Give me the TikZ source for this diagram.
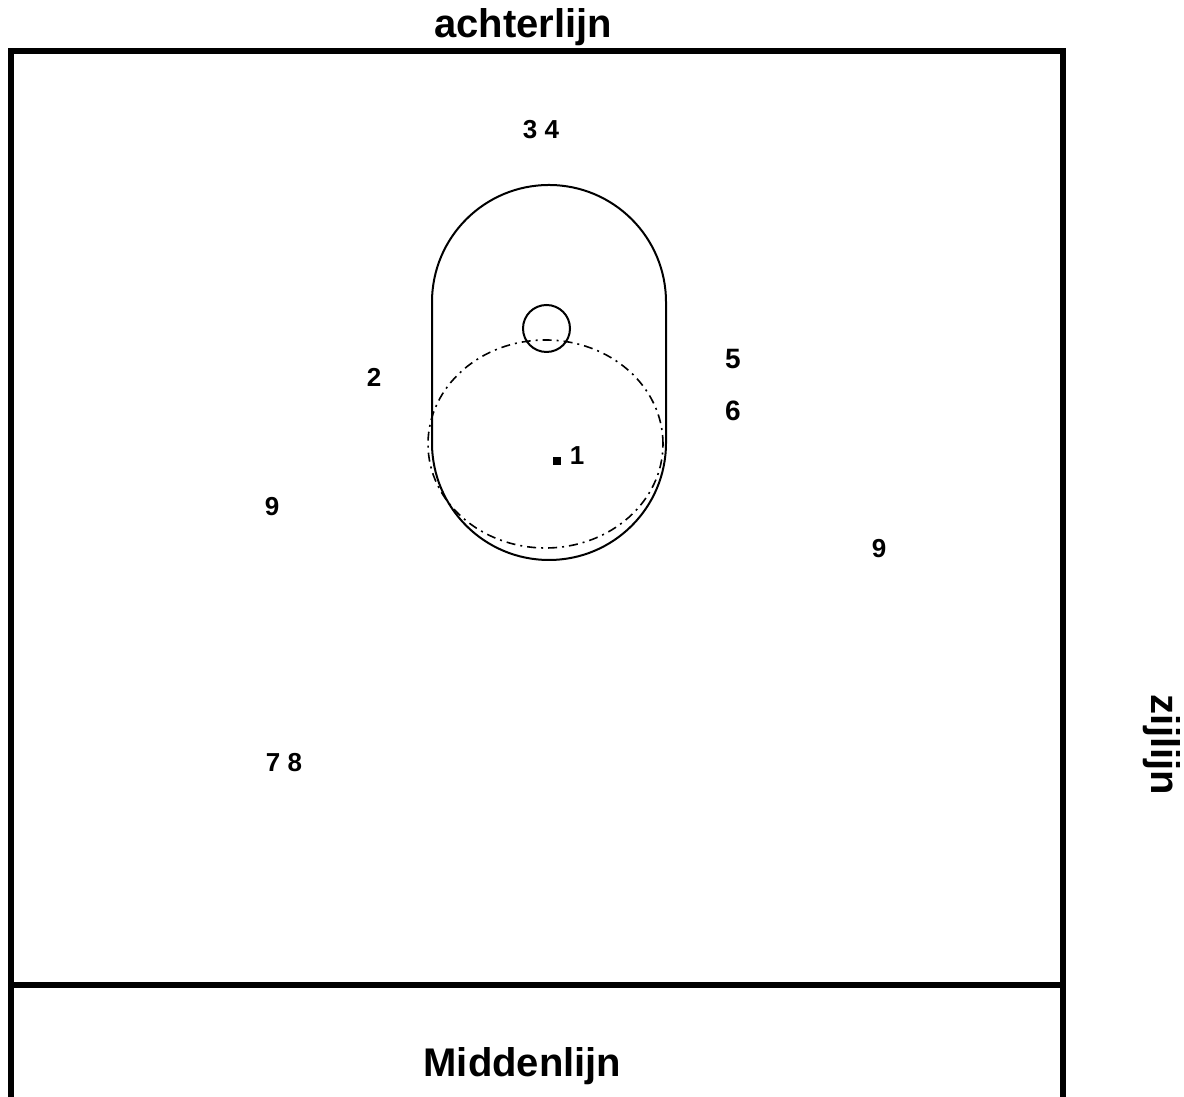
\documentclass[tikz,border=0pt]{standalone}
\usepackage{fontspec}
\setmainfont{Liberation Sans}
\begin{document}
\begin{tikzpicture}[x=1pt,y=1pt,
  frame/.style={line width=5.5pt, line join=miter},
  thin/.style={line width=2pt},
  dashring/.style={line width=1.6pt, dash pattern=on 9pt off 5pt on 2pt off 5pt},
  biglabel/.style={font=\fontsize{40}{46}\selectfont\bfseries, inner sep=0pt, anchor=base},
  num/.style={font=\fontsize{26}{31}\selectfont\bfseries, inner sep=0pt, anchor=base},
  bignum/.style={font=\fontsize{28}{33}\selectfont\bfseries, inner sep=0pt, anchor=base}]
\useasboundingbox[fill=white] (0,0) rectangle (1184,1097);
% field lines
\draw[frame] (11,-5) -- (11,1046) -- (1063,1046) -- (1063,-5);
\draw[frame] (11,112) -- (1063,112);
% capsule
\draw[thin] (432,795) arc[start angle=180, end angle=0, radius=117] -- (666,654)
  arc[start angle=0, end angle=-180, radius=117] -- cycle;
% small circle
\draw[thin] (546.5,768.5) circle[radius=23.5];
% dashed ellipse
\draw[dashring] (545.5,653) ellipse[x radius=117.5, y radius=104];
% marker square
\fill (553,632) rectangle (561,640);
% labels
\node[biglabel] (achter) at (523,1059) {achterlijn};
\node[biglabel] (midden) at (522.5,20) {Middenlijn};
\node[biglabel, rotate=-90] (zij) at (1151,352) {zijlijn};
\node[num] (n34) at (541,958) {3 4};
\node[num] (n2) at (374,710) {2};
\node[bignum] (n5) at (733,728) {5};
\node[bignum] (n6) at (733,676) {6};
\node[num] (n9a) at (272,581) {9};
\node[num] (n9b) at (879,539) {9};
\node[num] (n78) at (284,325) {7 8};
\node[num] (n1) at (577,632) {1};
\end{tikzpicture}
\end{document}
